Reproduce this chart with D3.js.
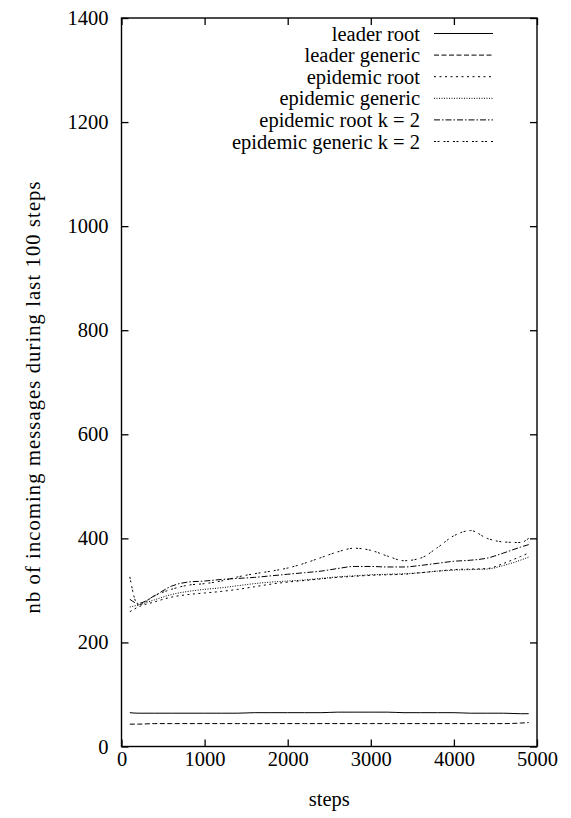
<!DOCTYPE html>
<html>
<head>
<meta charset="utf-8">
<script src="https://cdn.jsdelivr.net/npm/d3@7"></script>
<style>
html,body{margin:0;padding:0;background:#fff;}
svg text{font-family:"Liberation Serif","Times New Roman",serif;fill:#000;}
</style>
</head>
<body>
<svg id="chart" width="571" height="818"></svg>
<script>
const steps = [100,200,400,600,800,1000,1200,1400,1600,1800,2000,2200,2400,2600,2800,3000,3200,3400,3600,3800,4000,4200,4400,4600,4800,4900];
const leaderRoot    = [65,64,64,64,64,64,64,64,65,65,65,65,65,66,66,66,66,65,65,65,65,64,64,64,63,63];
const leaderGeneric = [43,43,44,44,44,44,44,44,44,44,44,44,44,44,44,44,44,44,44,44,44,44,44,44,45,46];
const epiRoot       = [259,268,278,287,292,295,298,302,307,312,316,319,322,325,327,329,330,331,334,337,340,341,342,352,365,372];
const epiGeneric    = [268,272,282,292,298,302,305,309,313,316,318,320,323,326,328,330,331,332,334,337,339,340,341,348,358,364];
const epiRootK2     = [283,275,290,308,316,318,321,323,325,328,331,334,337,342,346,346,345,345,348,352,356,358,362,372,383,388];
const epiGenericK2  = [326,272,290,302,310,313,318,326,332,337,343,352,363,374,381,377,366,357,362,382,405,415,400,393,392,400];
const seriesNames = ["leader root","leader generic","epidemic root","epidemic generic","epidemic root k = 2","epidemic generic k = 2"];
const xTicks = [0,1000,2000,3000,4000,5000];
const yTicks = [0,200,400,600,800,1000,1200,1400];

const series = [leaderRoot, leaderGeneric, epiRoot, epiGeneric, epiRootK2, epiGenericK2];
const dashes = [null, "5,2.5", "2,3.5", "1,1.5", "6,2,1.5,2", "2,1.5,2,4"];

const L = 121.5, R = 537, T = 18, B = 746.5;
const x = d3.scaleLinear().domain([0,5000]).range([L,R]);
const y = d3.scaleLinear().domain([0,1400]).range([B,T]);
const svg = d3.select("#chart");
const fs = 20.5;
const ff = "'Liberation Serif','Times New Roman',serif";

// frame
svg.append("rect").attr("x",L).attr("y",T).attr("width",R-L).attr("height",B-T)
  .attr("fill","none").attr("stroke","#000").attr("stroke-width",1.4);

const tl = 7;
const gxb = svg.append("g").attr("transform",`translate(0,${B})`)
  .call(d3.axisBottom(x).tickValues(xTicks).tickSize(-tl).tickPadding(5).tickFormat(d3.format("d")));
const gxt = svg.append("g").attr("transform",`translate(0,${T})`)
  .call(d3.axisTop(x).tickValues(xTicks).tickSize(-tl).tickFormat(""));
const gyl = svg.append("g").attr("transform",`translate(${L},0)`)
  .call(d3.axisLeft(y).tickValues(yTicks).tickSize(-tl).tickPadding(13).tickFormat(d3.format("d")));
const gyr = svg.append("g").attr("transform",`translate(${R},0)`)
  .call(d3.axisRight(y).tickValues(yTicks).tickSize(-tl).tickFormat(""));
[gxb,gxt,gyl,gyr].forEach(g=>{
  g.attr("font-family",null).attr("font-size",null);
  g.select(".domain").remove();
  g.selectAll(".tick line").attr("stroke","#000").attr("stroke-width",1.3);
  g.selectAll("text").style("font-family",ff).style("font-size",fs+"px").attr("fill","#000");
});

// axis labels
svg.append("text").attr("x",(L+R)/2).attr("y",806).attr("text-anchor","middle")
  .style("font-family",ff).style("font-size",fs+"px").text("steps");
svg.append("text").attr("transform",`translate(40,397.5) rotate(-90)`)
  .attr("text-anchor","middle").style("font-family",ff).style("font-size",fs+"px")
  .attr("textLength",432).attr("lengthAdjust","spacing")
  .text("nb of incoming messages during last 100 steps");

// lines
const line = d3.line().x((d,i)=>x(steps[i])).y(d=>y(d)).curve(d3.curveMonotoneX);
series.forEach((s,k)=>{
  svg.append("path").datum(s).attr("d",line).attr("fill","none")
    .attr("stroke","#000").attr("stroke-width",1)
    .attr("stroke-dasharray",dashes[k]);
});

// legend
const ly0 = 33.5, ldy = 21.6;
seriesNames.forEach((n,k)=>{
  const yy = ly0 + k*ldy;
  svg.append("text").attr("x",420).attr("y",yy+7).attr("text-anchor","end")
    .style("font-family",ff).style("font-size",fs+"px").text(n);
  svg.append("line").attr("x1",434).attr("x2",493).attr("y1",yy).attr("y2",yy)
    .attr("stroke","#000").attr("stroke-width",1).attr("stroke-dasharray",dashes[k]);
});
</script>
</body>
</html>
